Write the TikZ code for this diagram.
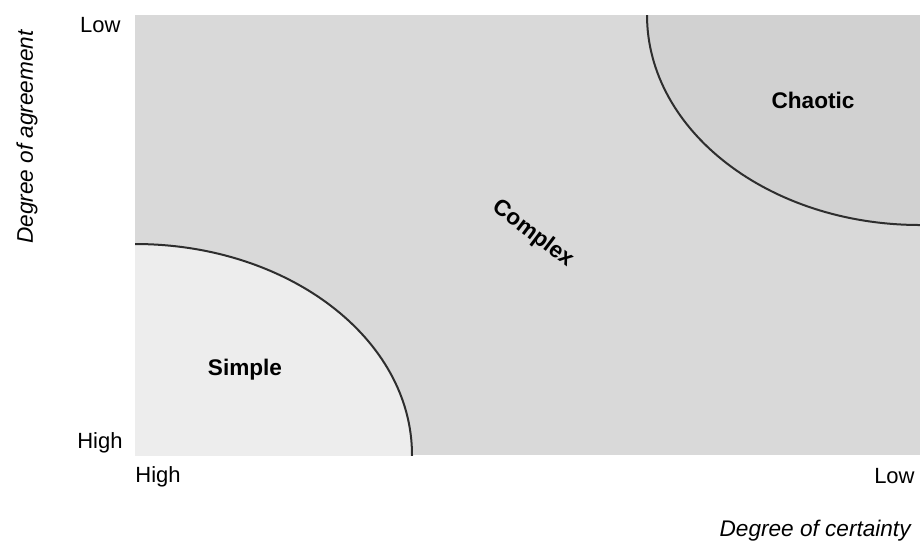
\documentclass[tikz,border=0pt]{standalone}
\usepackage{fontspec}
\setmainfont{Liberation Sans}
\definecolor{complexgray}{HTML}{D9D9D9}
\definecolor{chaoticgray}{HTML}{D1D1D1}
\definecolor{simplegray}{HTML}{EDEDED}
\definecolor{edgegray}{HTML}{2E2E2E}
\begin{document}
\begin{tikzpicture}[x=0.5pt,y=-0.5pt]

      \useasboundingbox (0,0) rectangle (920,548);

      \begin{scope}
        \clip (135,15) rectangle (920,455);
        \fill[complexgray] (135,15) rectangle (920,455);
        \filldraw[fill=simplegray,draw=edgegray,line width=1pt] (135,455) ellipse [x radius=277, y radius=211];
        \filldraw[fill=chaoticgray,draw=edgegray,line width=1pt] (920,15) ellipse [x radius=273, y radius=210];
      \end{scope}

      \begin{scope}[every node/.style={font=\bfseries\fontsize{11.3}{13}\selectfont}]
        \node (simple)  at (245,370) {Simple};
        \node (chaotic) at (813,100) {Chaotic};
        \node[rotate=-37] (complex) at (533,234) {Complex};
      \end{scope}

      \begin{scope}[every node/.style={font=\fontsize{11}{13}\selectfont,inner sep=0pt}]
        \node[anchor=east]   (agreelow)  at (121,25)  {Low};
        \node[anchor=east]   (agreehigh) at (123,443) {High};
        \node[anchor=west]   (certhigh)  at (135,477) {High};
        \node[anchor=east]   (certlow)   at (915,476) {Low};
      \end{scope}

      \begin{scope}[every node/.style={font=\itshape\fontsize{11.3}{13}\selectfont,inner sep=0pt}]
        \node[anchor=east]   (certainty) at (911,531) {Degree of certainty};
        \node[rotate=90]     (agreement) at (27,137)  {Degree of agreement};
      \end{scope}

    \end{tikzpicture}
\end{document}
